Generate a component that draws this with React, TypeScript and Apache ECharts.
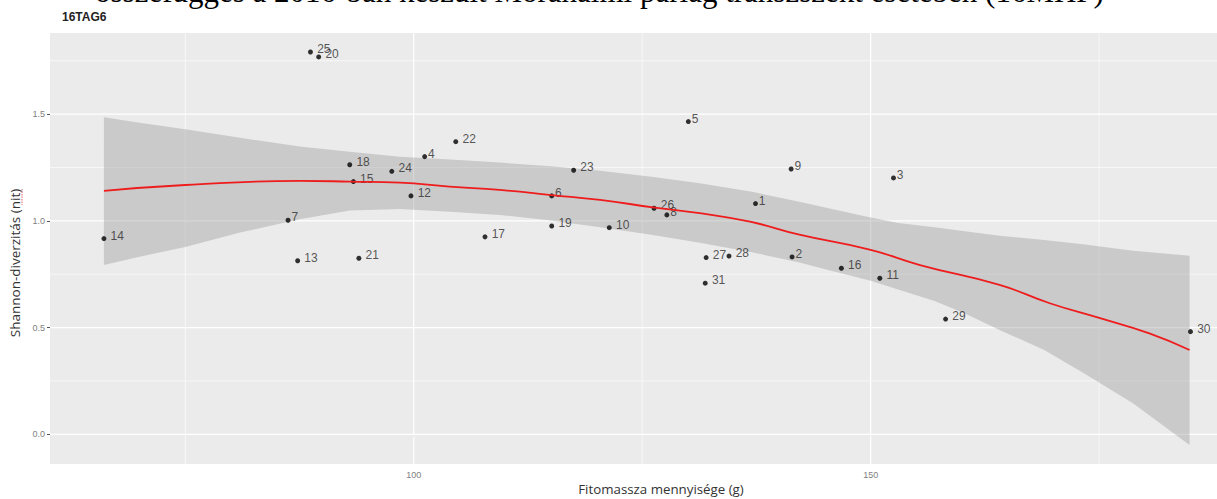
import React, { useEffect, useRef } from 'react';
import * as echarts from 'echarts';

// ---- data ----
const pointIds = ['1','2','3','4','5','6','7','8','9','10','11','12','13','14','15','16','17','18','19','20','21','22','23','24','25','26','27','28','29','30','31'];
const biomass = [137.4, 141.4, 152.5, 101.2, 130.05, 115.1, 86.25, 127.7, 141.3, 121.4, 151.0, 99.7, 87.3, 66.1, 93.4, 146.8, 107.8, 93.0, 115.1, 89.6, 94.0, 104.6, 117.5, 97.6, 88.7, 126.3, 132.0, 134.5, 158.2, 185.0, 131.9];
const shannon = [1.081, 0.831, 1.201, 1.301, 1.465, 1.117, 1.003, 1.028, 1.243, 0.968, 0.731, 1.117, 0.813, 0.917, 1.184, 0.778, 0.925, 1.263, 0.976, 1.768, 0.825, 1.371, 1.237, 1.232, 1.791, 1.059, 0.828, 0.835, 0.540, 0.481, 0.708];

const fitX = [66.1, 75, 87.5, 93, 98.5, 103.9, 109.4, 115.1, 120.4, 126.4, 131.3, 136.8, 142.2, 150, 155.4, 164.1, 169.6, 175.1, 180.5, 184.9];
const fitY = [1.140, 1.168, 1.187, 1.184, 1.179, 1.160, 1.145, 1.121, 1.098, 1.062, 1.036, 0.996, 0.935, 0.864, 0.793, 0.700, 0.614, 0.544, 0.473, 0.395];

const bandX = [66.1, 70, 75, 81, 87.5, 93, 98.5, 104, 109.4, 115, 120.4, 126, 131.3, 137, 142.2, 146, 150, 153, 157, 160.5, 164.1, 169, 173.2, 178.7, 184.9];
const bandUpper = [1.485, 1.460, 1.429, 1.389, 1.348, 1.324, 1.300, 1.287, 1.273, 1.256, 1.235, 1.207, 1.176, 1.136, 1.090, 1.053, 1.016, 0.990, 0.970, 0.950, 0.930, 0.910, 0.890, 0.860, 0.837];
const bandLower = [0.793, 0.832, 0.878, 0.945, 1.007, 1.048, 1.055, 1.043, 1.028, 1.002, 0.970, 0.935, 0.898, 0.853, 0.805, 0.763, 0.720, 0.678, 0.625, 0.562, 0.489, 0.395, 0.290, 0.145, -0.050];

const yTickValues = [0, 0.5, 1.0, 1.5];
const xTickValues = [100, 150];
const yMinorValues = [0.25, 0.75, 1.25, 1.75];
const xMinorValues = [75, 125, 175];

const titleText = 'összefüggés a 2016-ban készült Mórahalmi parlag transzszekt esetében (16MHP)';
const subtitleText = '16TAG6';
const xAxisName = 'Fitomassza mennyisége (g)';
const yAxisName = 'Shannon-diverzitás (nit)';

const X_MIN = 60.2;
const X_MAX = 187.9;
const Y_MIN = -0.139;
const Y_MAX = 1.88;

export default function App() {
  const ref = useRef<HTMLDivElement>(null);

  useEffect(() => {
    if (!ref.current) return;
    const chart = echarts.init(ref.current, undefined, { renderer: 'svg' });

    const scatterData = pointIds.map((id, i) => {
      const w = id.length * 6.7;
      return {
        value: [biomass[i], shannon[i]],
        name: id,
        label: { offset: [w / 2 - 2.5, -3] },
      };
    });

    const axisLabelFont = 'Liberation Sans, Arial, sans-serif';

    const option: any = {
      animation: false,
      backgroundColor: '#ffffff',
      grid: {
        left: 50,
        right: 0,
        top: 33,
        bottom: 35,
        show: true,
        backgroundColor: '#ebebeb',
        borderWidth: 0,
      },
      xAxis: {
        type: 'value',
        min: X_MIN,
        max: X_MAX,
        splitNumber: 3,
        axisLine: { show: false },
        axisTick: { show: true, length: 3, lineStyle: { color: '#555', width: 1 }, customValues: xTickValues },
        axisLabel: {
          color: '#7f7f7f', fontSize: 9, margin: 6, fontFamily: axisLabelFont,
          customValues: xTickValues,
          formatter: (v: number) => String(v),
        },
        splitLine: { show: false },
      },
      yAxis: {
        type: 'value',
        min: Y_MIN,
        max: Y_MAX,
        splitNumber: 5,
        axisLine: { show: false },
        axisTick: { show: true, length: 3, lineStyle: { color: '#555', width: 1 }, customValues: yTickValues },
        axisLabel: {
          color: '#7f7f7f', fontSize: 9, margin: 5, fontFamily: axisLabelFont,
          customValues: yTickValues,
          formatter: (v: number) => v.toFixed(1),
        },
        splitLine: { show: false },
      },
      series: [
        {
          // panel grid lines, placed through the axis scales
          type: 'custom',
          silent: true,
          z: 1,
          data: [[X_MIN, Y_MIN]],
          renderItem: (params: any, api: any) => {
            if (params.dataIndex !== 0) return null;
            const children: any[] = [];
            const h = (v: number, w: number) => {
              const a = api.coord([X_MIN, v]);
              const b = api.coord([X_MAX, v]);
              children.push({ type: 'line', shape: { x1: a[0], y1: a[1], x2: b[0], y2: b[1] }, style: { stroke: '#ffffff', lineWidth: w } });
            };
            const vl = (v: number, w: number) => {
              const a = api.coord([v, Y_MIN]);
              const b = api.coord([v, Y_MAX]);
              children.push({ type: 'line', shape: { x1: a[0], y1: a[1], x2: b[0], y2: b[1] }, style: { stroke: '#ffffff', lineWidth: w } });
            };
            yMinorValues.forEach((v) => h(v, 0.6));
            xMinorValues.forEach((v) => vl(v, 0.6));
            yTickValues.forEach((v) => h(v, 1.2));
            xTickValues.forEach((v) => vl(v, 1.2));
            return { type: 'group', children };
          },
        },
        {
          type: 'custom',
          silent: true,
          z: 2,
          data: [[bandX[0], bandLower[0]]],
          renderItem: (params: any, api: any) => {
            if (params.dataIndex !== 0) return null;
            const pts: number[][] = [];
            for (let i = 0; i < bandX.length; i++) pts.push(api.coord([bandX[i], bandUpper[i]]));
            for (let i = bandX.length - 1; i >= 0; i--) pts.push(api.coord([bandX[i], bandLower[i]]));
            return {
              type: 'polygon',
              shape: { points: pts },
              style: { fill: 'rgba(153,153,153,0.4)' },
            };
          },
        },
        {
          type: 'scatter',
          z: 3,
          symbolSize: 5,
          itemStyle: { color: '#000000' },
          data: scatterData,
          label: {
            show: true,
            position: 'right',
            distance: 0,
            formatter: (p: any) => p.name,
            color: '#2b2b2b',
            fontSize: 12,
            fontFamily: axisLabelFont,
          },
        },
        {
          type: 'line',
          z: 4,
          smooth: true,
          showSymbol: false,
          silent: true,
          data: fitX.map((x, i) => [x, fitY[i]]),
          lineStyle: { color: '#ee1c1c', width: 1.8 },
        },
      ],
      graphic: [
        {
          type: 'text',
          x: 95,
          y: -8.5,
          style: {
            text: titleText,
            font: '31px "Liberation Serif", "Times New Roman", serif',
            fill: '#000000',
            align: 'left',
            verticalAlign: 'middle',
          },
        },
        {
          type: 'text',
          x: 62,
          y: 17,
          style: {
            text: subtitleText,
            font: 'bold 12px "Liberation Sans", Arial, sans-serif',
            fill: '#222222',
            align: 'left',
            verticalAlign: 'middle',
          },
        },
        {
          type: 'text',
          x: 661,
          y: 489,
          style: {
            text: xAxisName,
            font: '13.3px "Open Sans", sans-serif',
            fill: '#333333',
            align: 'center',
            verticalAlign: 'middle',
          },
        },
        {
          type: 'text',
          x: 15,
          y: 263,
          rotation: Math.PI / 2,
          style: {
            text: yAxisName,
            font: '13.5px "Open Sans", sans-serif',
            fill: '#333333',
            align: 'center',
            verticalAlign: 'middle',
          },
        },
        {
          // spell-check underline seen under "(nit)" in the reference
          type: 'line',
          shape: { x1: 22, y1: 189, x2: 22, y2: 205 },
          style: { stroke: '#e06666', lineWidth: 1, lineDash: [1.5, 1] },
        },
      ],
    };

    chart.setOption(option);
    return () => chart.dispose();
  }, []);

  return (
    <div
      ref={ref}
      style={{ position: 'absolute', left: 0, top: 0, width: 1217, height: 499 }}
    />
  );
}
